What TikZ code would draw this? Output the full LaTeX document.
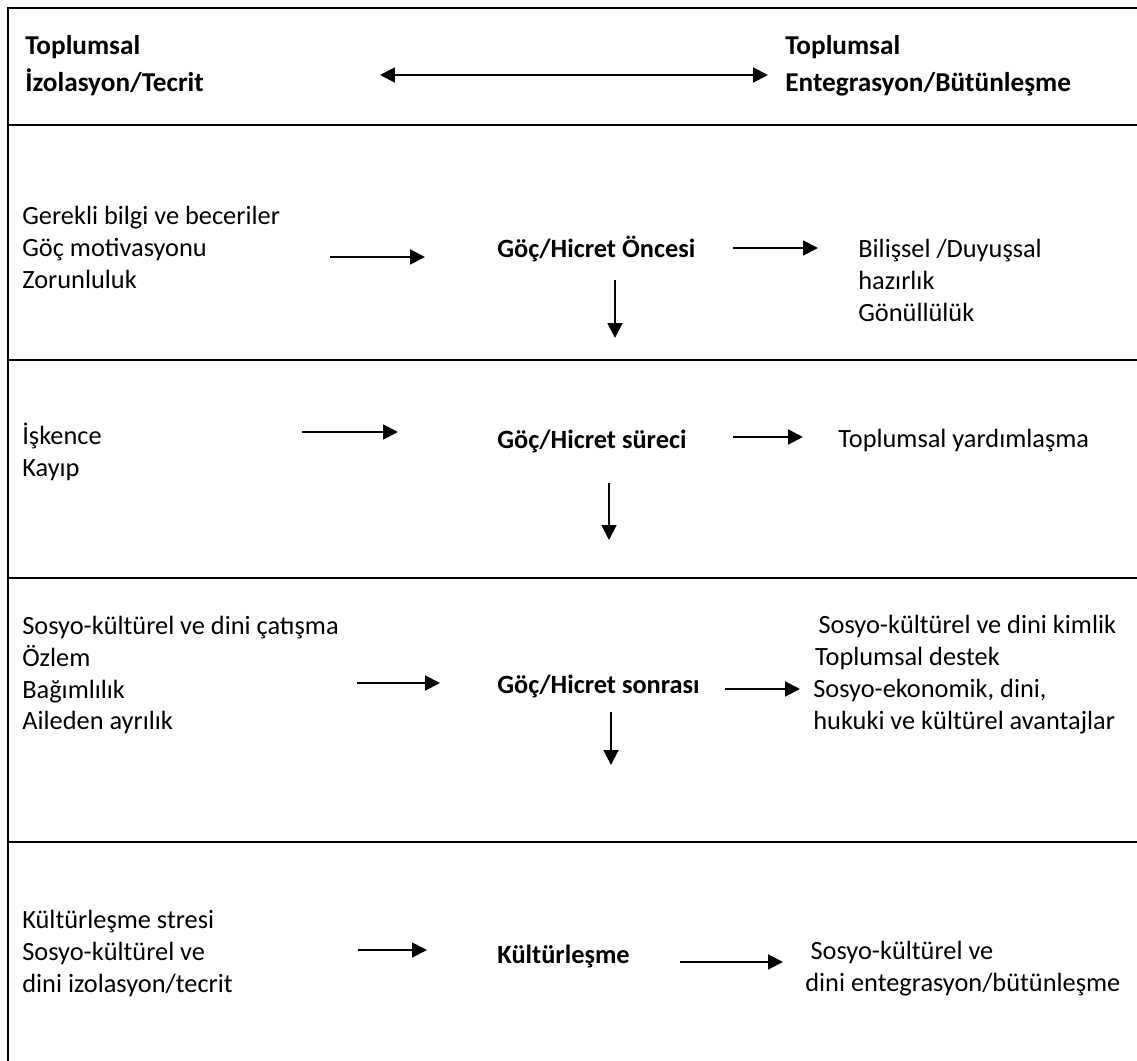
\documentclass[tikz,border=0pt]{standalone}
\usepackage{fontspec}
\setmainfont{Carlito}
\usetikzlibrary{arrows.meta}
\usetikzlibrary{positioning}
\tikzset{txt/.style = {anchor=west, inner sep=0, align=left,
                       font=\fontsize{15}{18.2}\selectfont}}
\tikzset{hd/.style = {txt, font=\fontsize{15.5}{21}\selectfont\bfseries}}
\tikzset{stage/.style = {txt, font=\fontsize{15}{18.2}\selectfont\bfseries}}
\tikzset{arr/.style = {-{Triangle[length=8.5pt,width=8.5pt]}, line width=1.1pt}}
\tikzset{band/.style = {line width=1.1pt}}

\begin{document}
\begin{tikzpicture}[x=0.02cm, y=-0.02cm]
    \useasboundingbox (0, 0) rectangle (1137, 1061);

    % frame and bands
    \draw [band] (8, 1061) -- (8, 8) -- (1137, 8);
    \foreach \y in {125, 360, 578, 842} {
      \draw [band] (8, \y) -- (1137, \y);
    }

    % header
    \node [hd] (isoL) at (25, 66) {Toplumsal\\İzolasyon/Tecrit};
    \node [hd] (entR) at (785, 66) {Toplumsal\\Entegrasyon/Bütünleşme};
    \coordinate (axisL) at (380, 75);
    \coordinate (axisR) at (768, 75);
    \draw [band, {Triangle[length=8.5pt,width=8.5pt]}-{Triangle[length=8.5pt,width=8.5pt]}]
      (axisL) -- (axisR);

    % before migration
    \node [txt] (preL) at (22, 247)
      {Gerekli bilgi ve beceriler\\Göç motivasyonu\\Zorunluluk};
    \node [stage] (pre) at (497, 249) {Göç/Hicret Öncesi};
    \node [txt] (preR) at (858, 280)
      {Bilişsel /Duyuşsal\\hazırlık\\Gönüllülük};
    \coordinate (preA1) at (330, 257);
    \coordinate (preA2) at (425, 257);
    \coordinate (preB1) at (733, 248);
    \coordinate (preB2) at (818, 248);
    \coordinate (preD1) at (615, 280);
    \coordinate (preD2) at (615, 338);
    \draw [arr] (preA1) -- (preA2);
    \draw [arr] (preB1) -- (preB2);
    \draw [arr] (preD1) -- (preD2);

    % during migration
    \node [txt] (durL) at (22, 452) {İşkence\\Kayıp};
    \node [stage] (dur) at (497, 441) {Göç/Hicret süreci};
    \node [txt] (durR) at (838, 441) {Toplumsal yardımlaşma};
    \coordinate (durA1) at (302, 432);
    \coordinate (durA2) at (398, 432);
    \coordinate (durB1) at (733, 437);
    \coordinate (durB2) at (803, 437);
    \coordinate (durD1) at (609, 483);
    \coordinate (durD2) at (609, 540);
    \draw [arr] (durA1) -- (durA2);
    \draw [arr] (durB1) -- (durB2);
    \draw [arr] (durD1) -- (durD2);

    % after migration
    \node [txt] (postL) at (22, 675)
      {Sosyo-kültürel ve dini çatışma\\Özlem\\Bağımlılık\\Aileden ayrılık};
    \node [stage] (post) at (497, 686) {Göç/Hicret sonrası};
    \node [txt] (postR) at (813, 675)
      {\hspace{3pt}Sosyo-kültürel ve dini kimlik\\\hspace{1pt}Toplumsal destek\\Sosyo-ekonomik, dini,\\hukuki ve kültürel avantajlar};
    \coordinate (postA1) at (357, 683);
    \coordinate (postA2) at (440, 683);
    \coordinate (postB1) at (725, 689);
    \coordinate (postB2) at (800, 689);
    \coordinate (postD1) at (611, 712);
    \coordinate (postD2) at (611, 765);
    \draw [arr] (postA1) -- (postA2);
    \draw [arr] (postB1) -- (postB2);
    \draw [arr] (postD1) -- (postD2);

    % acculturation
    \node [txt] (accL) at (22, 953)
      {Kültürleşme stresi\\Sosyo-kültürel ve\\dini izolasyon/tecrit};
    \node [stage] (acc) at (497, 956) {Kültürleşme};
    \node [txt] (accR) at (805, 969)
      {\hspace{3pt}Sosyo-kültürel ve\\dini entegrasyon/bütünleşme};
    \coordinate (accA1) at (358, 950);
    \coordinate (accA2) at (427, 950);
    \coordinate (accB1) at (680, 962);
    \coordinate (accB2) at (783, 962);
    \draw [arr] (accA1) -- (accA2);
    \draw [arr] (accB1) -- (accB2);
  \end{tikzpicture}
\end{document}
